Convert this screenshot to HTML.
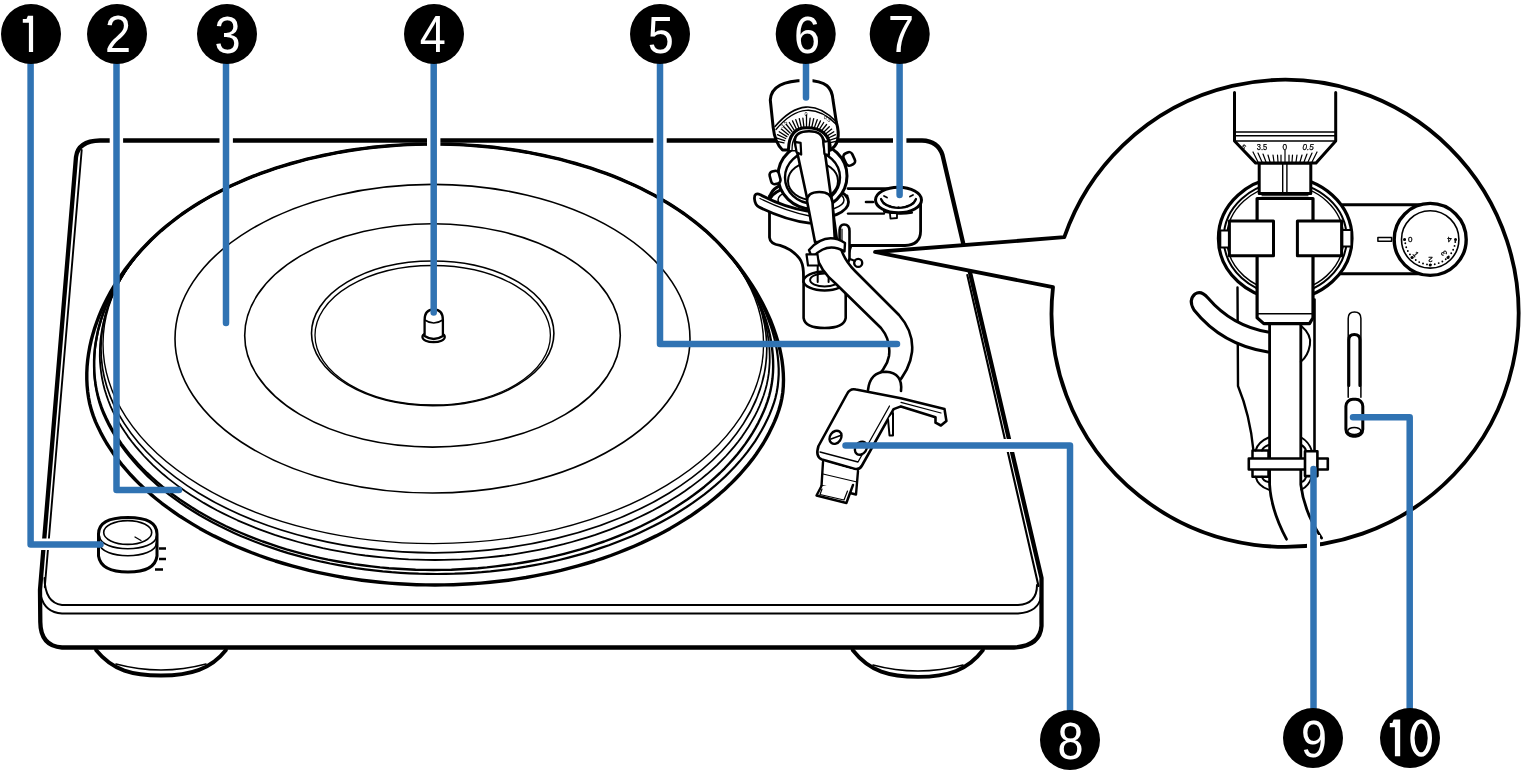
<!DOCTYPE html>
<html><head><meta charset="utf-8">
<style>
html,body{margin:0;padding:0;background:#fff;width:1521px;height:770px;overflow:hidden}
svg{display:block;will-change:transform}
.n{font-family:"Liberation Sans",sans-serif;font-size:52px;fill:#fff}
</style></head><body>
<svg width="1521" height="770" viewBox="0 0 1521 770">
<g fill="none" stroke="#000" stroke-linejoin="round" stroke-linecap="round">
  <!-- plinth outer silhouette -->
  <path d="M100 140.5 L922 140.5 Q938 141 942.5 155 L1041.5 578 L1041.5 626 Q1040 646 1014 647.5 L62 647.5 Q40.5 646 40.3 622 L40 590 L76 157 Q78 141 100 140.5" stroke-width="4.3"/>
  <!-- inner double line left edge -->
  <path d="M81.7 150 L44.8 587" stroke-width="1.9"/>
  <!-- inner double line right edge -->
  <path d="M967.3 275 L1038.5 586" stroke-width="2.1"/>
  <!-- top face bottom boundary -->
  <path d="M44.5 578 Q45 603 62 605 L1018 605 Q1037 604 1037 585" stroke-width="2"/>
  <path d="M40.8 596 Q45 612.5 62 613.5 L1018 613.5 Q1039 612 1041 596" stroke-width="2"/>
  <!-- feet -->
  <path d="M96 650 C113 671 133 675.5 161 675.5 C191 675.5 211 669 226 650" stroke-width="3.8"/>
  <path d="M116 664 Q161 676 206 664" stroke-width="1.6"/>
  <path d="M852.6 650 C870 672 890 676.8 918 676.8 C948 676.8 968 670 983 650" stroke-width="3.8"/>
  <path d="M873 665 Q918 677 963 665" stroke-width="1.6"/>

  <path d="M433.3 144.0 L441.9 144.1 L450.6 144.3 L459.2 144.6 L467.8 145.1 L476.4 145.7 L485.0 146.5 L493.5 147.3 L502.0 148.4 L510.4 149.5 L518.8 150.8 L527.1 152.2 L535.4 153.8 L543.6 155.5 L551.7 157.3 L559.7 159.2 L567.6 161.3 L575.5 163.5 L583.3 165.8 L590.9 168.2 L598.5 170.8 L605.9 173.4 L613.2 176.2 L620.4 179.1 L627.4 182.2 L634.4 185.3 L641.2 188.5 L647.8 191.9 L654.3 195.3 L660.7 198.9 L666.9 202.5 L672.9 206.3 L678.8 210.1 L684.5 214.0 L690.0 218.1 L695.3 222.2 L700.5 226.4 L705.5 230.6 L710.3 235.0 L714.9 239.4 L719.3 243.9 L723.6 248.5 L727.9 253.3 L732.1 258.2 L736.2 263.2 L740.3 268.4 L744.2 273.8 L748.0 279.3 L751.8 284.9 L755.4 290.7 L758.8 296.6 L762.1 302.6 L765.2 308.7 L768.1 314.9 L770.9 321.3 L773.3 327.7 L775.6 334.2 L777.6 340.7 L779.4 347.2 L780.8 353.8 L782.0 360.4 L782.8 367.0 L783.3 373.5 L783.5 379.9 L783.3 386.3 L782.8 392.5 L781.8 398.6 L780.5 404.6 L778.8 410.3 L776.8 416.0 L774.5 421.6 L772.0 427.1 L769.3 432.6 L766.3 438.1 L763.2 443.5 L759.7 448.9 L756.1 454.2 L752.3 459.4 L748.2 464.6 L743.9 469.7 L739.4 474.8 L734.7 479.7 L729.8 484.6 L724.7 489.4 L719.4 494.1 L713.9 498.7 L708.2 503.3 L702.3 507.7 L696.2 512.0 L690.0 516.3 L683.5 520.4 L677.0 524.4 L670.2 528.4 L663.3 532.2 L656.2 535.9 L649.0 539.4 L641.6 542.9 L634.1 546.2 L626.4 549.4 L618.7 552.5 L610.8 555.5 L602.7 558.3 L594.6 561.0 L586.3 563.5 L578.0 565.9 L569.5 568.2 L561.0 570.4 L552.3 572.4 L543.6 574.2 L534.8 575.9 L526.0 577.5 L517.1 578.9 L508.1 580.2 L499.1 581.3 L490.0 582.3 L480.9 583.1 L471.7 583.8 L462.6 584.3 L453.4 584.7 L444.2 584.9 L435.0 585.0 L425.8 584.9 L416.6 584.7 L407.4 584.3 L398.3 583.8 L389.1 583.1 L380.0 582.3 L370.9 581.3 L361.9 580.2 L352.9 578.9 L344.0 577.5 L335.2 575.9 L326.4 574.2 L317.7 572.4 L309.0 570.4 L300.5 568.2 L292.0 565.9 L283.7 563.5 L275.4 561.0 L267.3 558.3 L259.3 555.5 L251.3 552.5 L243.6 549.4 L235.9 546.2 L228.4 542.9 L221.0 539.4 L213.8 535.9 L206.7 532.2 L199.8 528.4 L193.0 524.4 L186.5 520.4 L180.0 516.3 L173.8 512.0 L167.7 507.7 L161.8 503.3 L156.1 498.7 L150.6 494.1 L145.3 489.4 L140.2 484.6 L135.3 479.7 L130.6 474.8 L126.1 469.7 L121.8 464.6 L117.7 459.4 L113.9 454.2 L110.3 448.9 L106.8 443.5 L103.7 438.1 L100.7 432.6 L98.0 427.1 L95.5 421.6 L93.3 415.9 L91.4 410.1 L89.8 404.1 L88.6 398.0 L87.7 391.9 L87.1 385.6 L86.8 379.3 L86.8 372.9 L87.1 366.5 L87.7 360.0 L88.6 353.6 L89.7 347.2 L91.1 340.8 L92.8 334.4 L94.7 328.1 L96.9 321.8 L99.2 315.6 L101.8 309.5 L104.6 303.4 L107.6 297.5 L110.8 291.6 L114.2 285.9 L117.8 280.3 L121.5 274.7 L125.3 269.3 L129.4 264.1 L133.5 258.9 L137.8 253.9 L142.2 249.0 L146.8 244.2 L151.4 239.5 L156.2 235.0 L161.1 230.6 L166.1 226.4 L171.3 222.2 L176.6 218.1 L182.1 214.0 L187.8 210.1 L193.7 206.3 L199.7 202.5 L205.9 198.9 L212.3 195.3 L218.8 191.9 L225.4 188.5 L232.2 185.3 L239.2 182.2 L246.2 179.1 L253.4 176.2 L260.7 173.4 L268.1 170.8 L275.7 168.2 L283.3 165.8 L291.1 163.5 L299.0 161.3 L306.9 159.2 L314.9 157.3 L323.0 155.5 L331.2 153.8 L339.5 152.2 L347.8 150.8 L356.2 149.5 L364.6 148.4 L373.1 147.3 L381.6 146.5 L390.2 145.7 L398.8 145.1 L407.4 144.6 L416.0 144.3 L424.7 144.1 L433.3 144.0 Z" stroke-width="3.4"/>
  <path d="M433.3 144.0 L441.9 144.1 L450.6 144.3 L459.2 144.6 L467.8 145.1 L476.4 145.7 L485.0 146.5 L493.5 147.3 L502.0 148.4 L510.4 149.5 L518.8 150.8 L527.1 152.2 L535.4 153.8 L543.6 155.5 L551.7 157.3 L559.7 159.2 L567.6 161.3 L575.5 163.5 L583.3 165.8 L590.9 168.2 L598.5 170.8 L605.9 173.4 L613.2 176.2 L620.4 179.1 L627.4 182.2 L634.4 185.3 L641.2 188.5 L647.8 191.9 L654.3 195.3 L660.7 198.9 L666.9 202.5 L672.9 206.3 L678.8 210.1 L684.5 214.0 L690.0 218.1 L695.3 222.2 L700.5 226.4 L705.5 230.6 L710.3 235.0 L714.9 239.4 L719.3 243.9 L723.6 248.5 L727.8 253.2 L731.9 258.1 L736.0 263.0 L739.8 268.1 L743.6 273.3 L747.3 278.7 L750.8 284.1 L754.1 289.7 L757.3 295.4 L760.4 301.1 L763.2 307.0 L765.8 312.9 L768.2 319.0 L770.4 325.0 L772.4 331.2 L774.1 337.3 L775.6 343.5 L776.8 349.8 L777.7 356.0 L778.3 362.2 L778.7 368.4 L778.7 374.5 L778.3 380.5 L777.7 386.5 L776.7 392.4 L775.4 398.1 L773.7 403.7 L771.7 409.2 L769.5 414.6 L767.0 420.1 L764.3 425.4 L761.4 430.8 L758.3 436.0 L755.0 441.3 L751.4 446.4 L747.6 451.6 L743.6 456.6 L739.4 461.6 L735.0 466.5 L730.4 471.3 L725.6 476.1 L720.6 480.8 L715.4 485.4 L710.0 489.9 L704.4 494.3 L698.6 498.6 L692.7 502.9 L686.6 507.0 L680.3 511.0 L673.8 515.0 L667.2 518.8 L660.4 522.5 L653.5 526.1 L646.4 529.6 L639.2 532.9 L631.8 536.2 L624.3 539.3 L616.7 542.3 L608.9 545.2 L601.0 547.9 L593.0 550.6 L585.0 553.1 L576.8 555.4 L568.5 557.6 L560.1 559.7 L551.6 561.7 L543.1 563.5 L534.5 565.1 L525.8 566.7 L517.0 568.1 L508.2 569.3 L499.4 570.4 L490.5 571.4 L481.6 572.2 L472.6 572.8 L463.6 573.3 L454.6 573.7 L445.6 573.9 L436.6 574.0 L427.6 573.9 L418.6 573.7 L409.6 573.3 L400.6 572.8 L391.6 572.2 L382.7 571.4 L373.8 570.4 L365.0 569.3 L356.2 568.1 L347.4 566.7 L338.7 565.1 L330.1 563.5 L321.6 561.7 L313.1 559.7 L304.7 557.6 L296.4 555.4 L288.2 553.1 L280.2 550.6 L272.2 547.9 L264.3 545.2 L256.5 542.3 L248.9 539.3 L241.4 536.2 L234.0 532.9 L226.8 529.6 L219.7 526.1 L212.8 522.5 L206.0 518.8 L199.4 515.0 L192.9 511.0 L186.6 507.0 L180.5 502.9 L174.6 498.6 L168.8 494.3 L163.2 489.9 L157.8 485.4 L152.6 480.8 L147.6 476.1 L142.8 471.3 L138.2 466.5 L133.8 461.6 L129.6 456.6 L125.6 451.6 L121.8 446.4 L118.2 441.3 L114.9 436.0 L111.8 430.8 L108.9 425.4 L106.2 420.1 L103.7 414.6 L101.5 409.1 L99.6 403.5 L98.0 397.8 L96.7 391.9 L95.6 386.0 L94.8 380.0 L94.3 374.0 L94.1 367.9 L94.1 361.8 L94.4 355.7 L94.9 349.6 L95.7 343.5 L96.8 337.4 L98.0 331.3 L99.6 325.3 L101.3 319.3 L103.3 313.4 L105.5 307.6 L107.9 301.8 L110.6 296.1 L113.4 290.4 L116.4 284.9 L119.6 279.4 L123.0 274.1 L126.6 268.8 L130.3 263.7 L134.3 258.6 L138.4 253.7 L142.6 248.8 L147.0 244.1 L151.5 239.5 L156.2 235.0 L161.1 230.6 L166.1 226.4 L171.3 222.2 L176.6 218.1 L182.1 214.0 L187.8 210.1 L193.7 206.3 L199.7 202.5 L205.9 198.9 L212.3 195.3 L218.8 191.9 L225.4 188.5 L232.2 185.3 L239.2 182.2 L246.2 179.1 L253.4 176.2 L260.7 173.4 L268.1 170.8 L275.7 168.2 L283.3 165.8 L291.1 163.5 L299.0 161.3 L306.9 159.2 L314.9 157.3 L323.0 155.5 L331.2 153.8 L339.5 152.2 L347.8 150.8 L356.2 149.5 L364.6 148.4 L373.1 147.3 L381.6 146.5 L390.2 145.7 L398.8 145.1 L407.4 144.6 L416.0 144.3 L424.7 144.1 L433.3 144.0 Z" stroke-width="2.2"/>
  <path d="M433.3 144.0 L441.9 144.1 L450.6 144.3 L459.2 144.6 L467.8 145.1 L476.4 145.7 L485.0 146.5 L493.5 147.3 L502.0 148.4 L510.4 149.5 L518.8 150.8 L527.1 152.2 L535.4 153.8 L543.6 155.5 L551.7 157.3 L559.7 159.2 L567.6 161.3 L575.5 163.5 L583.3 165.8 L590.9 168.2 L598.5 170.8 L605.9 173.4 L613.2 176.2 L620.4 179.1 L627.4 182.2 L634.4 185.3 L641.2 188.5 L647.8 191.9 L654.3 195.3 L660.7 198.9 L666.9 202.5 L672.9 206.3 L678.8 210.1 L684.5 214.0 L690.0 218.1 L695.3 222.2 L700.5 226.4 L705.5 230.6 L710.3 235.0 L714.9 239.4 L719.3 243.9 L723.6 248.5 L727.7 253.2 L731.8 258.0 L735.6 263.0 L739.3 268.0 L742.9 273.2 L746.3 278.5 L749.6 283.9 L752.7 289.4 L755.6 294.9 L758.3 300.6 L760.8 306.4 L763.1 312.2 L765.2 318.1 L767.0 324.1 L768.7 330.1 L770.1 336.1 L771.2 342.2 L772.1 348.3 L772.7 354.4 L773.1 360.5 L773.2 366.5 L773.0 372.5 L772.5 378.5 L771.7 384.3 L770.6 390.1 L769.2 395.8 L767.5 401.3 L765.6 406.7 L763.4 412.1 L760.9 417.5 L758.3 422.8 L755.4 428.1 L752.3 433.3 L749.0 438.5 L745.5 443.6 L741.7 448.7 L737.8 453.7 L733.6 458.6 L729.2 463.5 L724.7 468.3 L719.9 473.0 L714.9 477.6 L709.8 482.2 L704.4 486.7 L698.9 491.0 L693.2 495.3 L687.3 499.5 L681.2 503.6 L675.0 507.6 L668.6 511.5 L662.0 515.3 L655.3 519.0 L648.4 522.5 L641.4 526.0 L634.2 529.3 L626.9 532.5 L619.5 535.6 L611.9 538.6 L604.2 541.5 L596.4 544.2 L588.5 546.8 L580.5 549.3 L572.4 551.6 L564.2 553.8 L555.9 555.9 L547.5 557.8 L539.0 559.6 L530.5 561.2 L521.9 562.7 L513.2 564.1 L504.5 565.3 L495.7 566.4 L486.9 567.4 L478.1 568.2 L469.2 568.8 L460.3 569.3 L451.4 569.7 L442.4 569.9 L433.5 570.0 L424.6 569.9 L415.6 569.7 L406.7 569.3 L397.8 568.8 L388.9 568.2 L380.1 567.4 L371.3 566.4 L362.5 565.3 L353.8 564.1 L345.1 562.7 L336.5 561.2 L328.0 559.6 L319.5 557.8 L311.1 555.9 L302.8 553.8 L294.6 551.6 L286.5 549.3 L278.5 546.8 L270.6 544.2 L262.8 541.5 L255.1 538.6 L247.5 535.6 L240.1 532.5 L232.8 529.3 L225.6 526.0 L218.6 522.5 L211.7 519.0 L205.0 515.3 L198.4 511.5 L192.0 507.6 L185.8 503.6 L179.7 499.5 L173.8 495.3 L168.1 491.0 L162.6 486.7 L157.2 482.2 L152.1 477.6 L147.1 473.0 L142.3 468.3 L137.8 463.5 L133.4 458.6 L129.2 453.7 L125.3 448.7 L121.5 443.6 L118.0 438.5 L114.7 433.3 L111.6 428.1 L108.7 422.8 L106.1 417.5 L103.6 412.1 L101.5 406.7 L99.6 401.1 L98.0 395.5 L96.6 389.7 L95.6 383.9 L94.8 378.0 L94.3 372.1 L94.1 366.1 L94.1 360.1 L94.4 354.1 L94.9 348.1 L95.7 342.2 L96.8 336.2 L98.0 330.2 L99.6 324.3 L101.3 318.4 L103.3 312.6 L105.5 306.9 L107.9 301.2 L110.5 295.5 L113.3 290.0 L116.4 284.5 L119.6 279.1 L123.0 273.8 L126.6 268.6 L130.3 263.5 L134.2 258.5 L138.3 253.6 L142.6 248.8 L147.0 244.1 L151.5 239.5 L156.2 235.0 L161.1 230.6 L166.1 226.4 L171.3 222.2 L176.6 218.1 L182.1 214.0 L187.8 210.1 L193.7 206.3 L199.7 202.5 L205.9 198.9 L212.3 195.3 L218.8 191.9 L225.4 188.5 L232.2 185.3 L239.2 182.2 L246.2 179.1 L253.4 176.2 L260.7 173.4 L268.1 170.8 L275.7 168.2 L283.3 165.8 L291.1 163.5 L299.0 161.3 L306.9 159.2 L314.9 157.3 L323.0 155.5 L331.2 153.8 L339.5 152.2 L347.8 150.8 L356.2 149.5 L364.6 148.4 L373.1 147.3 L381.6 146.5 L390.2 145.7 L398.8 145.1 L407.4 144.6 L416.0 144.3 L424.7 144.1 L433.3 144.0 Z" stroke-width="2.4"/>
  <path d="M433.3 144.0 L441.9 144.1 L450.6 144.3 L459.2 144.6 L467.8 145.1 L476.4 145.7 L485.0 146.5 L493.5 147.3 L502.0 148.4 L510.4 149.5 L518.8 150.8 L527.1 152.2 L535.4 153.8 L543.6 155.5 L551.7 157.3 L559.7 159.2 L567.6 161.3 L575.5 163.5 L583.3 165.8 L590.9 168.2 L598.5 170.8 L605.9 173.4 L613.2 176.2 L620.4 179.1 L627.4 182.2 L634.4 185.3 L641.2 188.5 L647.8 191.9 L654.3 195.3 L660.7 198.9 L666.9 202.5 L672.9 206.3 L678.8 210.1 L684.5 214.0 L690.0 218.1 L695.3 222.2 L700.5 226.4 L705.5 230.6 L710.3 235.0 L714.9 239.4 L719.3 243.9 L723.6 248.5 L727.7 253.2 L731.6 257.9 L735.4 262.8 L739.0 267.8 L742.5 272.8 L745.8 278.0 L748.8 283.2 L751.7 288.5 L754.4 293.9 L756.9 299.3 L759.2 304.8 L761.3 310.4 L763.2 316.0 L764.8 321.7 L766.3 327.4 L767.4 333.1 L768.4 338.8 L769.1 344.6 L769.5 350.4 L769.7 356.1 L769.7 361.9 L769.3 367.6 L768.8 373.2 L767.9 378.9 L766.8 384.4 L765.3 389.9 L763.7 395.2 L761.7 400.6 L759.6 405.8 L757.2 411.1 L754.6 416.3 L751.7 421.4 L748.7 426.5 L745.4 431.6 L742.0 436.6 L738.3 441.5 L734.4 446.4 L730.3 451.2 L726.0 456.0 L721.5 460.7 L716.8 465.3 L711.9 469.8 L706.8 474.3 L701.6 478.6 L696.1 482.9 L690.5 487.1 L684.7 491.2 L678.7 495.2 L672.6 499.1 L666.3 502.9 L659.8 506.6 L653.2 510.2 L646.5 513.6 L639.5 517.0 L632.5 520.3 L625.3 523.4 L618.0 526.4 L610.6 529.3 L603.0 532.1 L595.3 534.8 L587.5 537.3 L579.7 539.7 L571.7 542.0 L563.6 544.2 L555.4 546.2 L547.2 548.1 L538.8 549.8 L530.4 551.4 L522.0 552.9 L513.4 554.3 L504.9 555.5 L496.2 556.5 L487.6 557.4 L478.9 558.2 L470.1 558.9 L461.4 559.4 L452.6 559.7 L443.8 559.9 L435.0 560.0 L426.2 559.9 L417.4 559.7 L408.6 559.4 L399.9 558.9 L391.1 558.2 L382.4 557.4 L373.8 556.5 L365.1 555.5 L356.6 554.3 L348.0 552.9 L339.6 551.4 L331.2 549.8 L322.8 548.1 L314.6 546.2 L306.4 544.2 L298.3 542.0 L290.3 539.7 L282.5 537.3 L274.7 534.8 L267.0 532.1 L259.4 529.3 L252.0 526.4 L244.7 523.4 L237.5 520.3 L230.5 517.0 L223.5 513.6 L216.8 510.2 L210.2 506.6 L203.7 502.9 L197.4 499.1 L191.3 495.2 L185.3 491.2 L179.5 487.1 L173.9 482.9 L168.4 478.6 L163.2 474.3 L158.1 469.8 L153.2 465.3 L148.5 460.7 L144.0 456.0 L139.7 451.2 L135.6 446.4 L131.7 441.5 L128.0 436.6 L124.6 431.6 L121.3 426.5 L118.3 421.4 L115.4 416.3 L112.8 411.1 L110.4 405.8 L108.3 400.5 L106.4 395.1 L104.7 389.7 L103.3 384.2 L102.1 378.6 L101.2 373.0 L100.5 367.3 L100.0 361.6 L99.8 355.9 L99.9 350.2 L100.1 344.5 L100.6 338.8 L101.4 333.1 L102.4 327.5 L103.6 321.8 L105.0 316.2 L106.6 310.6 L108.5 305.1 L110.6 299.6 L112.9 294.2 L115.4 288.9 L118.2 283.6 L121.1 278.4 L124.2 273.2 L127.6 268.1 L131.1 263.1 L134.9 258.2 L138.8 253.4 L142.9 248.7 L147.2 244.0 L151.6 239.5 L156.3 235.0 L161.1 230.6 L166.1 226.4 L171.3 222.2 L176.6 218.1 L182.1 214.0 L187.8 210.1 L193.7 206.3 L199.7 202.5 L205.9 198.9 L212.3 195.3 L218.8 191.9 L225.4 188.5 L232.2 185.3 L239.2 182.2 L246.2 179.1 L253.4 176.2 L260.7 173.4 L268.1 170.8 L275.7 168.2 L283.3 165.8 L291.1 163.5 L299.0 161.3 L306.9 159.2 L314.9 157.3 L323.0 155.5 L331.2 153.8 L339.5 152.2 L347.8 150.8 L356.2 149.5 L364.6 148.4 L373.1 147.3 L381.6 146.5 L390.2 145.7 L398.8 145.1 L407.4 144.6 L416.0 144.3 L424.7 144.1 L433.3 144.0 Z" stroke-width="1.8"/>

  <ellipse cx="433.9" cy="348.4" rx="332.9" ry="204.4" stroke-width="1.7"/>
  <ellipse cx="433.3" cy="343.8" rx="330.3" ry="199.8" stroke-width="1.4"/>
  <!-- mat -->
  <ellipse cx="432.5" cy="338.7" rx="257.5" ry="154.3" stroke-width="1.6"/>
  <ellipse cx="432.5" cy="335.4" rx="187.8" ry="111.7" stroke-width="1.6"/>
  <ellipse cx="432.7" cy="333.3" rx="121.2" ry="72.3" stroke-width="1.6"/>
  <ellipse cx="432.7" cy="335.25" rx="117.7" ry="69.75" stroke-width="1.3"/>
  <!-- spindle -->
  <ellipse cx="433.6" cy="337" rx="11.2" ry="5.2" stroke-width="2.2" fill="#fff"/>
  <path d="M424.6 336 L424.6 320 Q424.6 309.5 433.7 309.5 Q442.9 309.5 442.9 320 L442.9 336 Q433.7 342 424.6 336 Z" stroke-width="2.3" fill="#fff"/>
  <path d="M424.8 320 Q433.7 326 442.7 320" stroke-width="1.6"/>
  <!-- knob -->
  <path d="M98.5 534 L98.5 556 Q101 572 128 572 Q155 572 157 556 L157 534 Q157 517.5 127.8 517.5 Q98.5 517.5 98.5 534 Z" stroke-width="3" fill="#fff"/>
  <ellipse cx="127.7" cy="532.5" rx="24" ry="11.9" stroke-width="1.6"/>
  <path d="M99.5 536 C100 553 155.5 553 156.5 536" stroke-width="1.7"/>
  <path d="M99.5 543 C100 560 155.5 560 156.5 543" stroke-width="1.7"/>
  <path d="M135 537 L141 540.5" stroke-width="1.3"/>
  <path d="M159 548.5 H166 M159 559 H166 M155 569.5 H163" stroke-width="2.6" stroke-linecap="butt"/>

  <!-- base housing (behind) -->
  <path d="M769.5 196 L769.5 237.5 Q770 244 780 245.3 Q792 249 799.4 258.3 Q803 263 803.4 272 L803.6 282 L845 282 L848 255 L851 245.5 L905 245.5 Q920.5 245 920.6 231 L920.6 199 L905 188.6 L848 188.6" stroke-width="2.8" fill="#fff"/>
  <!-- height dial 7 -->
  <path d="M848 213.6 H884" stroke-width="2.4"/>
  <path d="M884 211.6 Q898 215 912 212.7" stroke-width="2.2"/>
  <path d="M890 214 L890.5 218.6 L897 218 L897 214" stroke-width="1.8" fill="#fff"/>
  <ellipse cx="898.5" cy="200" rx="23" ry="12.7" stroke-width="3" fill="#fff"/>
  <path d="M881 199 Q884 207 898.5 208 Q913 207 916 199" stroke-width="2.2"/>
  <g fill="#000" stroke="none"><circle cx="913.1" cy="203.2" r="1.3"/><circle cx="910.8" cy="205.0" r="0.9"/><circle cx="907.4" cy="206.3" r="1.3"/><circle cx="903.2" cy="207.2" r="0.9"/><circle cx="898.5" cy="207.5" r="1.3"/><circle cx="893.8" cy="207.2" r="0.9"/><circle cx="889.6" cy="206.3" r="1.3"/><circle cx="886.2" cy="205.0" r="0.9"/><circle cx="883.9" cy="203.2" r="1.3"/></g>
  <path d="M884 196 l3 1.5 M910 196.5 l3 -1.5" stroke-width="1.8"/>
  <path d="M866 202 H873" stroke-width="2.6"/>
  <!-- pillar -->
  <path d="M803.6 282 L803.6 318 Q805 328 824.6 328 Q844 328 845.7 318 L845.7 282" stroke-width="2.6" fill="#fff"/>
  <ellipse cx="824.6" cy="281" rx="21" ry="9.5" stroke-width="2.4" fill="#fff"/>
  <ellipse cx="824.6" cy="280" rx="14.5" ry="6.5" stroke-width="2"/>
  <path d="M817.7 266 V282 M828.6 266 V282" stroke-width="2" fill="#fff"/>
  <!-- gimbal base ellipse -->
  <path d="M769.5 200 Q770 186 790 183 M838 212 Q849 205 847 196" stroke-width="3"/>
  <ellipse cx="809" cy="202" rx="39.5" ry="17.5" stroke-width="2.8" fill="#fff"/>
  <ellipse cx="811" cy="200" rx="33" ry="12" stroke-width="1.5"/>
  <!-- gimbal ring -->
  <ellipse cx="812.5" cy="176" rx="34.5" ry="33" stroke-width="3" fill="#fff"/>
  <ellipse cx="812.5" cy="177.5" rx="27.5" ry="26" stroke-width="2.4" fill="#fff"/>
  <ellipse cx="813" cy="181" rx="25" ry="19" stroke-width="2"/>
  <rect x="770.3" y="171" width="9.5" height="13" rx="3.5" stroke-width="2.6" fill="#fff" transform="rotate(-15 775 177.5)"/>
  <rect x="844.5" y="152.5" width="9.5" height="13" rx="3.5" stroke-width="2.6" fill="#fff" transform="rotate(-25 849 159)"/>
  <!-- counterweight -->
  <path d="M770.3 100 C771 86 785 80.5 806 80.5 C827 80.5 832 88 833 100 L836.3 121.9 C840 135 839 145 830 150 L782.5 150 C776 144 774 135 773.2 127.7 Z" stroke-width="3" fill="#fff"/>
  <path d="M775 126.6 Q806 90 836.3 121.9" stroke-width="1.6"/>
  <path d="M776 129.5 Q806 93.5 837 125" stroke-width="1.4"/>
  <path d="M788.4 150 Q789 127.7 806.5 127.7 Q830 127.7 830.5 150" stroke-width="3" fill="#fff"/>
  <path d="M792 150 Q792 131.5 807 131.5 Q826 131.5 827 150" stroke-width="1.3"/>
  <g stroke-width="1.3">
    <path d="M784.0 142.8 L775.2 141.0 M784.7 140.7 L776.2 137.8 M785.7 138.5 L777.5 134.7 M786.9 136.6 L779.2 131.8 M788.4 134.7 L781.3 129.1 M790.1 133.0 L783.7 126.7 M792.0 131.5 L786.4 124.5 M794.1 130.1 L789.3 122.5 M796.4 129.0 L792.5 120.9 M798.8 128.1 L795.8 119.7 M801.3 127.5 L799.3 118.7 M803.9 127.1 L802.9 118.2 M806.5 127.0 L806.5 115.0 M809.1 127.1 L810.1 118.2 M811.7 127.5 L813.7 118.7 M814.2 128.1 L817.2 119.7 M816.6 129.0 L820.5 120.9 M818.9 130.1 L823.7 122.5 M821.0 131.5 L826.6 124.5 M822.9 133.0 L829.3 126.7 M824.6 134.7 L831.7 129.1 M826.1 136.6 L833.8 131.8 M827.3 138.5 L835.5 134.7 M828.3 140.7 L836.8 137.8 M829.0 142.8 L837.8 141.0"/>
  </g>
  <g font-family="Liberation Sans, sans-serif" font-size="5.5" fill="#000" stroke="none" text-anchor="middle">
    <text x="783.7" y="126" transform="rotate(-40 783.7 124)">3.5</text>
    <text x="806" y="116.3">0</text>
    <text x="827.5" y="120.5" transform="rotate(35 827.5 118.4)">0.5</text>
  </g>
  <!-- arm upper tube -->
  <path d="M794.8 141 Q795 131.2 809 131.2 Q823 131.2 823.4 141.8 L837 240 L816 240 Z" stroke-width="2.6" fill="#fff"/>
  <path d="M794.8 141.8 L800.6 142.9 L801.2 154.6 L796.6 152.3 Z" stroke-width="2.2" fill="#fff"/>
  <path d="M823.4 142 L828.7 141 L829 155 L824.5 154 Z" stroke-width="2.2" fill="#fff"/>
  <!-- arm lift lever -->
  <path d="M809.7 211.6 Q783 207 760.4 194.7 Q754 192 754.5 199 Q755 205 759 207 Q785 220 809.7 223.2" stroke-width="2.8" fill="#fff"/>
  <path d="M760 198.5 Q785 211 809.7 216" stroke-width="1.3"/>
  <!-- sleeve -->
  <path d="M807.1 201.2 Q807 192 819.3 192 Q832 192 832.5 202.5 L835 242 L815 242 Z" stroke-width="2.6" fill="#fff"/>
  <!-- arm rest hook -->
  <path d="M839.6 262 L839.6 230 Q840 224.5 844 224.5 Q849.5 224.5 849.5 231 L849.5 258 Q849 264 844 264" stroke-width="2.6" fill="#fff"/>
  <path d="M842 229 L842 260" stroke-width="1.2"/>
  <circle cx="858.2" cy="262.9" r="4" stroke-width="2.4" fill="#fff"/>
  <path d="M850 259 L855 261" stroke-width="2"/>
  <!-- S-arm -->
  <path d="M815 248 Q817 268 835 283 L881 328 Q891 340 889 356 Q887 369 870 383 L895 386 Q910 370 912 352 Q914 332 899 315 L855 271 Q844 260 840 246 Z" stroke-width="2.6" fill="#fff"/>
  <!-- clamp -->
  <path d="M809 250 Q826 231 845 243 L844.5 251.5 Q827 241 812 258 Z" stroke-width="2.4" fill="#fff"/>
  <path d="M806.5 254.4 L817.5 254.4 L819 265.5 L808 265.5 Z" stroke-width="2.2" fill="#fff"/>
  <!-- ferrule -->
  <path d="M868 390 Q870 372 886 371.8 Q903 373 901 391" stroke-width="2.6" fill="#fff"/>
  <!-- headshell -->
  <path d="M856 389.5 Q850 388 847 394 L818.5 446 Q815 457 822 459.5 L855 469 Q859.5 470 862 465.5 L893.6 409.1 L900.9 406.4 L935.5 417.3 L935.5 422.7 L940.9 425.5 L946.4 420.9 L944.5 409.1 L900.9 398.2 Z" stroke-width="2.6" fill="#fff"/>
  <path d="M820 452 L858 462 L889.5 406" stroke-width="1.3"/>
  <path d="M901 402.3 L941 413" stroke-width="1.2"/>
  <path d="M888 419 L889.5 435.5 L893 435.5 L893 413" stroke-width="2" fill="#fff"/>
  <!-- cartridge -->
  <path d="M823 462 L821.5 486 L856 494.5 L858 471" stroke-width="2.4" fill="#fff"/>
  <path d="M823 474 L857 482" stroke-width="1.2"/>
  <path d="M821.5 486 L816.5 495.5 L846.4 503 L853 485 M846.4 503 L850 493" stroke-width="2.4" fill="#fff"/>
  <path d="M822 489 L820 494.5 L844 500 L847.5 491" stroke-width="1.2"/>
  <!-- screws -->
  <ellipse cx="835.5" cy="437.3" rx="5.5" ry="7" stroke-width="2.4" fill="#fff" transform="rotate(35 835.5 437.3)"/>
  <path d="M831 439 L840.5 435.5" stroke-width="1.5"/>
  <ellipse cx="860.9" cy="448.2" rx="5.5" ry="7" stroke-width="2.4" fill="#fff" transform="rotate(35 860.9 448.2)"/>

  <!-- magnifier circle with wedge -->
  <path d="M1064.3 237.2 A233.5 233.5 0 1 1 1053 287.2 L875 252 Z" stroke-width="3.8" fill="#fff"/>
  <!-- housing left vertical & lower -->
  <path d="M1237.5 287.5 L1238 386 Q1250 415 1253.5 451" stroke-width="2.4"/>
  <path d="M1314.5 299.5 L1314.5 451" stroke-width="2.6"/>
  <!-- height housing -->
  <path d="M1342.5 204.7 L1430 204.7 M1312.5 273.8 L1430 273.8" stroke-width="3"/>
  <rect x="1377.9" y="237.4" width="13.7" height="3.9" stroke-width="1.5"/>
  <circle cx="1430.2" cy="239.4" r="36" stroke-width="3.4" fill="#fff"/>
  <circle cx="1430.2" cy="239.4" r="28.7" stroke-width="1.6"/>
  <path d="M1405 239.4 A25.2 25.2 0 0 0 1455.4 239.4" stroke-width="1.9" stroke-dasharray="0 4" stroke-linecap="round"/>
  <g fill="#000" stroke="none"><circle cx="1404.5" cy="239.4" r="1.5"/><circle cx="1412" cy="257.5" r="1.5"/><circle cx="1430.2" cy="265" r="1.5"/><circle cx="1448" cy="257.5" r="1.5"/><circle cx="1455.5" cy="239.4" r="1.5"/></g>
  <g font-family="Liberation Sans, sans-serif" font-size="8" fill="#000" stroke="#000" stroke-width="0.3" text-anchor="middle">
    <text x="1410.3" y="242.3">0</text>
    <text x="1416" y="257" transform="rotate(50 1416 254)">1</text>
    <text x="1430.5" y="262.3" transform="rotate(180 1430.5 259.5)">2</text>
    <text x="1444" y="256" transform="rotate(-120 1444 253.2)">3</text>
    <text x="1449.5" y="242.3" transform="rotate(180 1449.5 239.5)">4</text>
  </g>
  <!-- gimbal ring -->
  <ellipse cx="1285.2" cy="238.4" rx="66.8" ry="61" stroke-width="3.2" fill="#fff"/>
  <ellipse cx="1285.2" cy="238.4" rx="61.5" ry="56" stroke-width="2"/>
  <ellipse cx="1285.2" cy="238.4" rx="58.5" ry="53" stroke-width="1.4"/>
  <rect x="1220.3" y="230.6" width="9.1" height="16.9" stroke-width="2" fill="#fff"/>
  <rect x="1342.3" y="230" width="9.1" height="16.5" stroke-width="2" fill="#fff"/>
  <!-- lift lever -->
  <path d="M1268 332 Q1232 326 1208 298 Q1201 290 1195 294 Q1188 300 1194 310 Q1222 345 1268 352" stroke-width="3" fill="#fff"/>
  <!-- arm tube lower -->
  <path d="M1269.6 324 L1269.6 484.7 Q1271 510 1286.5 539.2 M1300.8 324 L1300.8 484.7 Q1304 512 1321.6 538" stroke-width="2.8"/>
  <path d="M1300.8 325.5 Q1312 335 1309.9 345 Q1308 356 1300.8 361.8" stroke-width="2"/>
  <!-- clamp area -->
  <rect x="1252.5" y="450.5" width="16" height="26.2" stroke-width="2.5" fill="#fff"/>
  <path d="M1268.6 437.5 Q1258 442 1255.6 450.5 M1268.6 445 Q1263 447 1262 450.5 M1255.6 476.7 Q1258 486 1268.6 489.6 M1262 476.7 Q1263 481 1268.6 482" stroke-width="2"/>
  <path d="M1301.3 437.5 Q1309 442 1311.7 450.5 M1301.3 445 Q1305 447 1306 450.5 M1311.7 476.7 Q1309 486 1301.3 489.6 M1306 476.7 Q1305 481 1301.3 482" stroke-width="2"/>
  <rect x="1248.8" y="458.5" width="79" height="11" stroke-width="2.6" fill="#fff"/>
  <rect x="1305" y="451.2" width="12.4" height="24.9" stroke-width="2.6" fill="#fff"/>
  <!-- main body -->
  <path d="M1257.1 198.5 L1313 198.5 L1313 317.7 L1309.5 323.6 L1263.8 323.6 L1257.1 317.7 Z" stroke-width="3.2" fill="#fff"/>
  <path d="M1257.5 313.8 H1312.5" stroke-width="1.5"/>
  <!-- boxes -->
  <rect x="1229.4" y="221" width="44.1" height="34.8" stroke-width="3" fill="#fff"/>
  <rect x="1297.4" y="221" width="44.2" height="34.8" stroke-width="3" fill="#fff"/>
  <!-- neck -->
  <rect x="1259.2" y="163" width="51.6" height="30.5" stroke-width="3" fill="#fff"/>
  <path d="M1282.7 164 V193 M1286.9 164 V193" stroke-width="1.4"/>
  <path d="M1262 195.8 H1308" stroke-width="1.1"/>
  <!-- counterweight -->
  <path d="M1234.5 92.5 L1234.5 141 L1255.7 163.1 L1316 163.1 L1335.7 141 L1335.7 92.5" stroke-width="3" fill="#fff"/>
  <path d="M1235.5 132 H1334.5 M1235.5 135.7 H1334.5 M1235.5 141 H1334.5" stroke-width="1.6"/>
  <g stroke-width="1.2">
    <path d="M1258 162 L1253 152 M1262 162 L1258 153 M1266 162 L1263 154 M1270 162 L1268 155 M1274 162 L1273 155 M1278 162 L1277.5 155 M1281 162 L1281 155 M1285 162 L1285 150 M1289 162 L1289 155 M1292 162 L1292.5 155 M1296 162 L1297 155 M1300 162 L1302 155 M1304 162 L1307 154 M1308 162 L1312 153 M1312 162 L1317 152"/>
  </g>
  <g font-family="Liberation Sans, sans-serif" font-size="9" fill="#000" stroke="#000" stroke-width="0.25" text-anchor="middle">
    <text x="1262" y="149.8" textLength="10.4" lengthAdjust="spacingAndGlyphs">3.5</text>
    <text x="1284.8" y="149.8" textLength="4.6" lengthAdjust="spacingAndGlyphs">0</text>
    <text x="1308.2" y="149.8" font-style="italic" textLength="11.2" lengthAdjust="spacingAndGlyphs">0.5</text>
    <text x="1243.5" y="149.5" transform="rotate(40 1243.5 147)" font-size="7">5</text>
  </g>
  <!-- pin 10 -->
  <path d="M1348.2 397.3 L1348.2 318.5 Q1348.2 312.1 1354.5 312.1 Q1360.9 312.1 1360.9 318.5 L1360.9 397.3" stroke-width="1.5"/>
  <path d="M1348.8 385.6 L1348.8 340 Q1348.8 334.6 1354.3 334.6 Q1359.9 334.6 1359.9 340 L1359.9 385.6" stroke-width="3"/>
  <rect x="1345.9" y="399.3" width="16.9" height="37" rx="7" stroke-width="3" fill="#fff"/>
  <ellipse cx="1354.3" cy="431" rx="6.5" ry="3.5" stroke-width="1.5"/>

</g>
<!-- white gaps where leaders cross lines -->
<g fill="#fff" stroke="none">
  <rect x="109.7" y="136" width="13.4" height="10"/>
  <rect x="219.5" y="136" width="13.4" height="10"/>
  <rect x="427" y="136" width="13.4" height="10"/>
  <rect x="653.3" y="136" width="13.4" height="10"/>
  <rect x="893" y="136" width="13.4" height="10"/>
  <rect x="799.5" y="75" width="13" height="12"/>
  <rect x="1307" y="535" width="13" height="15"/>
  <rect x="998" y="439" width="24" height="13"/>
  <rect x="34" y="538.5" width="20" height="11.5"/>
</g>
<g fill="none" stroke="#3073b3" stroke-width="6.5" stroke-linecap="round" stroke-linejoin="round">
  <path d="M30.6 64 V544.6 H100.5"/>
  <path d="M116.5 64 V490 H179"/>
  <path d="M226 64 V323"/>
  <path d="M433.7 64 V312.5"/>
  <path d="M660 64 V344 H897"/>
  <path d="M806 64 V97.5"/>
  <path d="M899.6 64 V195"/>
  <path d="M1070 710 V445.5 H845.5"/>
  <path d="M1313.5 708 V469"/>
  <path d="M1409.7 708 V417.3 H1353"/>
</g>
<g>
  <circle cx="31" cy="34" r="30"/>
  <circle cx="117" cy="34" r="30"/>
  <circle cx="227" cy="34" r="30"/>
  <circle cx="434" cy="34" r="30"/>
  <circle cx="660" cy="34" r="30"/>
  <circle cx="805.7" cy="34" r="30"/>
  <circle cx="899.7" cy="34" r="30"/>
  <circle cx="1070" cy="740" r="30"/>
  <circle cx="1313" cy="738" r="30"/>
  <circle cx="1410" cy="738" r="30"/>
</g>
<g class="n" text-anchor="middle">
  <text x="118" y="52.5" transform="translate(118 0) scale(0.9 1) translate(-118 0)">2</text>
  <text x="227.4" y="52.8" transform="translate(227.4 0) scale(0.9 1) translate(-227.4 0)">3</text>
  <text x="432.7" y="52.5" transform="translate(432.7 0) scale(0.9 1) translate(-432.7 0)">4</text>
  <text x="660.7" y="52.8" transform="translate(660.7 0) scale(0.9 1) translate(-660.7 0)">5</text>
  <text x="807.1" y="52.8" transform="translate(807.1 0) scale(0.9 1) translate(-807.1 0)">6</text>
  <text x="901.1" y="52" transform="translate(901.1 0) scale(0.9 1) translate(-901.1 0)">7</text>
  <text x="1070.5" y="759" transform="translate(1070.5 0) scale(0.9 1) translate(-1070.5 0)">8</text>
  <text x="1314.1" y="757" transform="translate(1314.1 0) scale(0.9 1) translate(-1314.1 0)">9</text>
</g>
<g fill="#fff">
  <path d="M27.9 15.8 H33.1 V51.9 H28.9 V22.8 H22.8 V18.9 H26.5 Z"/>
  <path d="M1393.6 719.6 H1400.2 V756.3 H1394.9 V727.3 H1389.8 V723.1 H1392.3 Z"/>
</g>
<ellipse cx="1421.15" cy="737.9" rx="8.7" ry="16.6" fill="none" stroke="#fff" stroke-width="4.3"/>
</svg>
</body></html>
